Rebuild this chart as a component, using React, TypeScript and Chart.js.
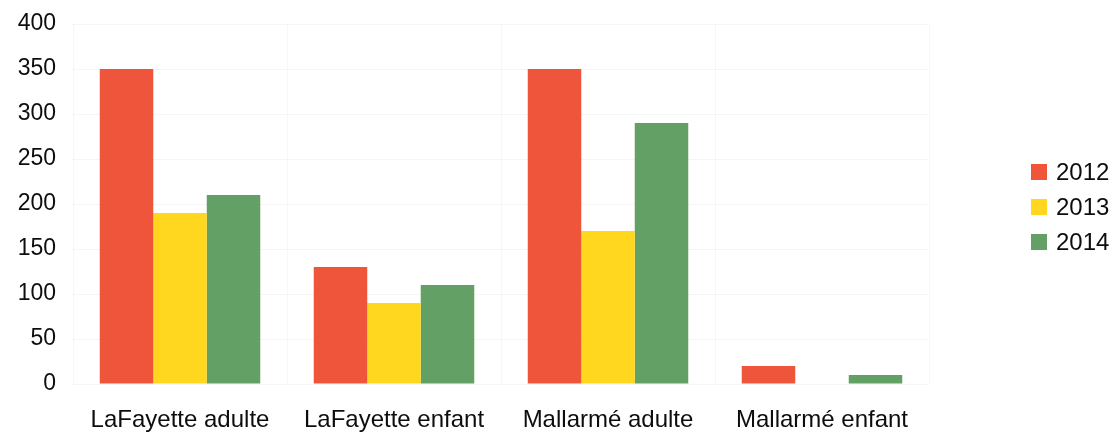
import React, { useEffect, useRef } from "react";
import { Chart, registerables } from "chart.js";

Chart.register(...registerables);

const categories = ["LaFayette adulte", "LaFayette enfant", "Mallarmé adulte", "Mallarmé enfant"];
const seriesLabels = ["2012", "2013", "2014"];
const values2012 = [350, 130, 350, 20];
const values2013 = [190, 90, 170, 0];
const values2014 = [210, 110, 290, 10];
const seriesColors = ["#EF553A", "#FED71E", "#63A065"];
const yTicks = [0, 50, 100, 150, 200, 250, 300, 350, 400];

const FONT = "'Liberation Sans', Arial, Helvetica, sans-serif";

const legendPlugin = {
  id: "sideLegend",
  afterDraw(chart: any) {
    const ctx = chart.ctx as CanvasRenderingContext2D;
    const ds = chart.data.datasets;
    const x0 = 1031;
    const yCenter = 207;
    const step = 35;
    const box = 16;
    ctx.save();
    ctx.font = `24px ${FONT}`;
    ctx.textBaseline = "middle";
    ctx.textAlign = "left";
    ds.forEach((d: any, i: number) => {
      const y = yCenter + (i - (ds.length - 1) / 2) * step;
      ctx.fillStyle = d.backgroundColor;
      ctx.fillRect(x0, y - box / 2, box, box);
      ctx.fillStyle = "#0d0d0d";
      ctx.fillText(d.label, x0 + box + 9, y + 1);
    });
    ctx.restore();
  },
};

export default function App() {
  const ref = useRef<HTMLCanvasElement | null>(null);
  useEffect(() => {
    if (!ref.current) return;
    const seriesValues = [values2012, values2013, values2014];
    const chart = new Chart(ref.current, {
      type: "bar",
      data: {
        labels: categories,
        datasets: seriesLabels.map((label, i) => ({
          label,
          data: seriesValues[i],
          backgroundColor: seriesColors[i],
          borderWidth: 0,
          categoryPercentage: 0.75,
          barPercentage: 1.0,
        })),
      },
      options: {
        animation: false,
        responsive: false,
        devicePixelRatio: 1,
        layout: { padding: { left: 0, right: 187, top: 24, bottom: 0 } },
        plugins: {
          legend: { display: false },
          tooltip: { enabled: false },
          title: { display: false },
        },
        scales: {
          x: {
            grid: { display: true, color: "rgba(0,0,0,0.03)", drawTicks: false },
            border: { display: false },
            afterFit: (axis: any) => {
              axis.height = 49;
              axis.paddingLeft = 0;
              axis.paddingRight = 0;
            },
            ticks: {
              color: "#0d0d0d",
              font: { family: FONT, size: 24 },
              padding: 22,
              maxRotation: 0,
              autoSkip: false,
            },
          },
          y: {
            min: 0,
            max: 400,
            afterBuildTicks: (axis: any) => {
              axis.ticks = yTicks.map((v) => ({ value: v }));
            },
            afterFit: (axis: any) => {
              axis.width = 73;
              axis.paddingTop = 0;
              axis.paddingBottom = 0;
            },
            grid: { color: "rgba(0,0,0,0.04)", drawTicks: false },
            border: { display: false },
            ticks: {
              color: "#0d0d0d",
              font: { family: FONT, size: 23 },
              padding: 17,
            },
          },
        },
      },
      plugins: [legendPlugin],
    });
    return () => chart.destroy();
  }, []);
  return (
    <div style={{ position: "absolute", left: 0, top: 0, width: 1116, height: 433, background: "#fff" }}>
      <canvas ref={ref} width={1116} height={433} style={{ width: 1116, height: 433, display: "block" }} />
    </div>
  );
}
